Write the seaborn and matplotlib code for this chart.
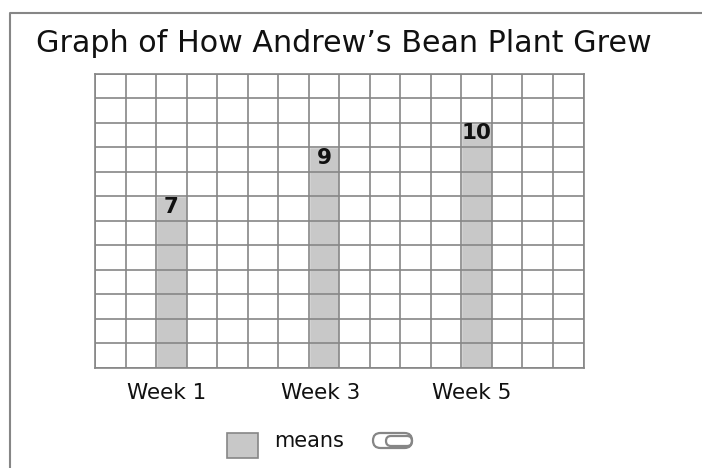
import matplotlib
matplotlib.use('Agg')
import matplotlib.pyplot as plt
from matplotlib.lines import Line2D
from matplotlib.patches import FancyBboxPatch, Rectangle
from matplotlib.transforms import IdentityTransform
import numpy as np
import pandas as pd
import seaborn as sns

weeks = ['Week 1', 'Week 3', 'Week 5']
means = [7, 9, 10]
grid_column = [2.5, 7.5, 12.5]
label_column = [2.33, 7.39, 12.35]

W, H = 702, 468
GREY = '#868686'
BAR = '#c8c8c8'

sns.set_theme(style='white')
plt.rcParams['font.family'] = ['DejaVu Sans']

df = pd.DataFrame({'column': grid_column, 'means': means})

fig = plt.figure(figsize=(W / 100, H / 100), dpi=100, facecolor='white')
ax = fig.add_axes([95 / W, 1 - 368 / H, 488.5 / W, 294.5 / H])

# native scale so the bars land on the right grid columns
sns.barplot(data=df, x='column', y='means', native_scale=True, width=0.2,
            color=BAR, saturation=1, ax=ax, zorder=1)

ax.set_xlim(0, 16)
ax.set_ylim(0, 12)
ax.set_xlabel('')
ax.set_ylabel('')
ax.set_yticks(np.arange(0, 13))
ax.set_xticks(np.arange(0, 17))
ax.grid(True, color=GREY, linewidth=1.2, zorder=2)
ax.set_axisbelow(False)
ax.tick_params(bottom=False, left=False, labelbottom=False, labelleft=False)
for s in ax.spines.values():
    s.set_color(GREY)
    s.set_linewidth(1.2)

for c, v in zip(grid_column, means):
    ax.text(c, v - 0.43, str(v), ha='center', va='center', fontsize=15.5,
            fontweight='bold', color='#111111', zorder=5)

for c, w in zip(label_column, weeks):
    ax.annotate(w, xy=(c, 0), xycoords=('data', 'axes fraction'), xytext=(0, -25),
                textcoords='offset pixels', ha='center', va='center',
                fontsize=15.5, color='#111111', annotation_clip=False)

fig.text(36 / W, 1 - 43 / H, 'Graph of How Andrew\u2019s Bean Plant Grew',
         fontsize=21.7, color='#111111', ha='left', va='center')

# outer frame, only left and top are visible
fig.add_artist(Line2D([9.5 / W, 9.5 / W, 1], [0, 1 - 12.5 / H, 1 - 12.5 / H],
                      color=GREY, linewidth=1.5, transform=fig.transFigure))

# legend swatch and the paperclip icon
fig.add_artist(Rectangle((227 / W, 1 - 458 / H), 31 / W, 25 / H, facecolor=BAR,
                         edgecolor=GREY, linewidth=1.2, transform=fig.transFigure))
fig.text(274 / W, 1 - 441 / H, 'means', fontsize=15, color='#111111', ha='left', va='center')
for x0, x1, y0, y1 in [(373, 412, 433, 448), (386, 412, 436, 446)]:
    fig.add_artist(FancyBboxPatch((x0, H - y1), x1 - x0, y1 - y0,
                                  boxstyle='round,pad=0,rounding_size=%.1f' % ((y1 - y0) / 2),
                                  facecolor='none', edgecolor=GREY, linewidth=1.6,
                                  transform=IdentityTransform()))

fig.savefig('out.png', dpi=100, facecolor='white')
